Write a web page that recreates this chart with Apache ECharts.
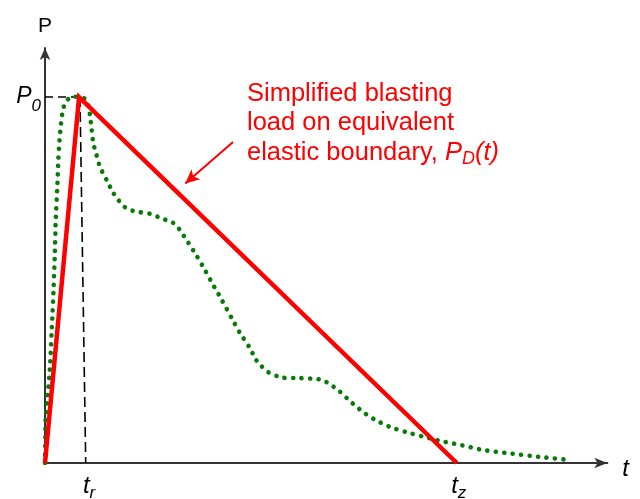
<!DOCTYPE html>
<html>
<head>
<meta charset="utf-8">
<script src="https://cdn.jsdelivr.net/npm/echarts@6/dist/echarts.min.js"></script>
<style>
  html, body { margin: 0; padding: 0; background: #fff; }
  #chart { width: 640px; height: 499px; }
</style>
</head>
<body>
<div id="chart"></div>
<script>
// Characteristic times and peak pressure (arbitrary units)
const T_R = 6;      // rise time
const T_Z = 72.5;   // end of the simplified load
const P_0 = 100;    // peak pressure

// Simplified triangular blasting load P_D(t)
const simplifiedTime = [0, T_R, T_Z];
const simplifiedLoad = [0, P_0, 0];

// Measured-style blasting pressure history (dotted curve)
const blastTime = [0, 0.12, 0.4, 0.88, 1.29, 1.46, 1.71, 1.89, 2.17, 2.34, 2.52, 2.76, 3.05, 3.52,
  4.28, 5.28, 6.16, 7.04, 7.62, 7.92, 8.22, 8.5, 8.98, 9.68, 10.86, 12.02, 12.9, 13.79, 15.09,
  16.43, 17.61, 18.79, 19.95, 21.3, 22.59, 23.64, 25.23, 26.71, 28.17, 29.52, 30.93, 32.97,
  34.33, 35.92, 37.2, 38.03, 39.31, 41.78, 44.89, 47.54, 48.82, 50.18, 51.64, 53.7, 55.93,
  58.22, 60.92, 63.68, 66.6, 69.67, 72.66, 77.16, 81.69, 87.73, 92.3];
const blastPressure = [0, 12.3, 17.2, 26.2, 39.9, 45.4, 56.3, 66.4, 75.4, 82.8, 87.4, 91.8, 95.6,
  98.4, 99.7, 100.1, 100, 99.5, 97.8, 95.1, 91.0, 87.4, 84.7, 80.9, 77.3, 73.8, 71.9, 70.2, 69.1,
  68.6, 68.3, 68.0, 67.2, 66.4, 65.6, 63.9, 60.2, 56.6, 52.7, 48.9, 45.1, 39.3, 35.5, 31.8, 28.1,
  26.6, 24.8, 23.3, 23.2, 23.0, 22.7, 21.5, 19.9, 16.9, 14.0, 11.7, 9.75, 8.4, 7.2, 6.0, 5.1,
  3.55, 2.65, 1.56, 0.82];

// Guide lines marking P0 and t_r
const guideHorizontal = [[0, P_0], [T_R, P_0]];
const guideVertical = [[6.16, P_0], [7.17, 0]];

// Tick labels
const xTickValues = [T_R, T_Z];
const yTickValues = [P_0];

const FONT = 'Liberation Sans, Arial, sans-serif';
const zip = (a, b) => a.map((v, i) => [v, b[i]]);

const chart = echarts.init(document.getElementById('chart'), null, { renderer: 'canvas' });

chart.setOption({
  animation: false,
  backgroundColor: '#ffffff',
  grid: { left: 45, right: 32.7, top: 48, bottom: 36, containLabel: false, outerBoundsMode: 'none' },
  xAxis: {
    type: 'value',
    min: 0,
    max: 99,
    name: 't',
    nameLocation: 'end',
    nameGap: 15,
    nameTextStyle: {
      fontFamily: FONT, fontSize: 24, fontStyle: 'italic', color: '#000',
      verticalAlign: 'top', lineHeight: 12
    },
    splitLine: { show: false },
    axisTick: { show: false },
    axisLine: { lineStyle: { color: '#333', width: 2 }, symbol: ['none', 'arrow'], symbolSize: [8, 13] },
    axisLabel: {
      customValues: xTickValues,
      margin: 8,
      formatter: v => (v === T_R ? '{a|t}{r|r}' : '{b|t}{z|z}'),
      rich: {
        a: { fontFamily: FONT, fontSize: 24, fontStyle: 'italic', color: '#000', padding: [0, 0, 0, 20] },
        r: { fontFamily: FONT, fontSize: 17, fontStyle: 'italic', color: '#000', padding: [14, 0, 0, 0] },
        b: { fontFamily: FONT, fontSize: 24, fontStyle: 'italic', color: '#000', padding: [0, 0, 0, 4] },
        z: { fontFamily: FONT, fontSize: 17, fontStyle: 'italic', color: '#000', padding: [14, 0, 0, 0] }
      }
    }
  },
  yAxis: {
    type: 'value',
    min: 0,
    max: 113.4,
    name: 'P',
    nameLocation: 'end',
    nameGap: 11,
    nameTextStyle: { fontFamily: FONT, fontSize: 21, color: '#000', align: 'center' },
    splitLine: { show: false },
    axisTick: { show: false },
    axisLine: { lineStyle: { color: '#333', width: 2 }, symbol: ['none', 'arrow'], symbolSize: [8, 12] },
    axisLabel: {
      customValues: yTickValues,
      margin: 4,
      formatter: () => '{p|P}{s|0}',
      rich: {
        p: { fontFamily: FONT, fontSize: 23, fontStyle: 'italic', color: '#000' },
        s: { fontFamily: FONT, fontSize: 17, fontStyle: 'italic', color: '#000', padding: [18, 0, 0, 0] }
      }
    }
  },
  series: [
    {
      name: 'guide-h',
      type: 'line',
      data: guideHorizontal,
      symbol: 'none',
      silent: true,
      lineStyle: { color: '#000', width: 1.5, type: [8, 5] },
      z: 1
    },
    {
      name: 'guide-v',
      type: 'line',
      data: guideVertical,
      symbol: 'none',
      silent: true,
      lineStyle: { color: '#000', width: 1.6, type: [10, 5] },
      z: 1
    },
    {
      name: 'blasting pressure',
      type: 'line',
      data: zip(blastTime, blastPressure),
      symbol: 'none',
      smooth: 0.2,
      lineStyle: { color: '#087a08', width: 4.6, type: [0.1, 8.4], cap: 'round' },
      z: 2
    },
    {
      name: 'simplified load',
      type: 'line',
      data: zip(simplifiedTime, simplifiedLoad),
      symbol: 'none',
      lineStyle: { color: '#ff0000', width: 4.5, join: 'miter' },
      z: 3,
      markLine: {
        silent: true,
        symbol: ['none', 'arrow'],
        symbolSize: [10, 14],
        label: { show: false },
        lineStyle: { color: '#ff0000', width: 2, type: 'solid' },
        data: [[{ coord: [33.1, 87.7] }, { coord: [24.7, 76.4] }]]
      }
    }
  ],
  graphic: [
    {
      type: 'text',
      left: 247,
      top: 79,
      style: {
        text: 'Simplified blasting\nload on equivalent\nelastic boundary, {i|P}{d|D}{i|(t)}',
        fontFamily: FONT,
        fontSize: 25.5,
        lineHeight: 29.5,
        fill: '#ff0000',
        rich: {
          i: { fontFamily: FONT, fontSize: 25.5, fontStyle: 'italic', fill: '#ff0000', lineHeight: 29.5 },
          d: { fontFamily: FONT, fontSize: 18, fontStyle: 'italic', fill: '#ff0000', padding: [12, 0, 0, 0] }
        }
      }
    }
  ]
});
</script>
</body>
</html>
